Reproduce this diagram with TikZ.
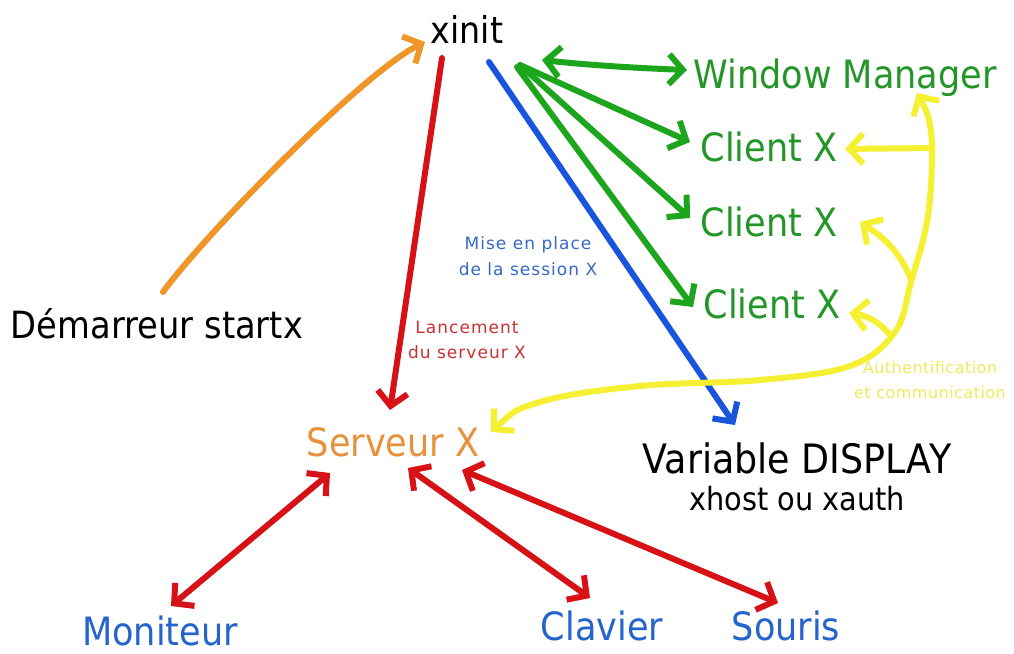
\documentclass[tikz,border=0pt]{standalone}
\usepackage{fontspec}
\setmainfont{DejaVu Sans}[FakeStretch=0.9]
\newfontfamily\smallf{DejaVu Sans}[LetterSpace=6]
\newfontfamily\smallg{DejaVu Sans}[LetterSpace=3]
\usetikzlibrary{arrows.meta,calc}
\definecolor{lorange}{RGB}{240,150,40}
\definecolor{lred}{RGB}{215,18,22}
\definecolor{lblue}{RGB}{25,85,220}
\definecolor{lgreen}{RGB}{30,165,30}
\definecolor{lyellow}{RGB}{245,240,50}
\definecolor{tgreen}{RGB}{35,150,40}
\definecolor{tblue}{RGB}{35,100,205}
\definecolor{torange}{RGB}{232,145,60}
\definecolor{tred}{RGB}{200,50,50}
\definecolor{tsblue}{RGB}{55,105,200}
\definecolor{tyellow}{RGB}{238,235,90}
\begin{document}
\begin{tikzpicture}[x=1pt,y=-1pt,
  lbl/.style={anchor=base, inner sep=0pt, font=\fontsize{39}{39}\selectfont},
  small/.style={anchor=center, inner sep=0pt, align=center, font=\smallf\fontsize{17}{25.5}\selectfont},
  conn/.style={line width=6pt, line cap=round, line join=round},
  >={Straight Barb[length=14pt,width=30pt]}]
\useasboundingbox[fill=white] (0,0) rectangle (1014,653);

% nodes
\node[lbl, font=\fontsize{37}{37}\selectfont] (xinit) at (467,43) {xinit};
\node[lbl, text=tgreen] (wm) at (845,88) {Window Manager};
\node[lbl, text=tgreen] (c1) at (769,161) {Client X};
\node[lbl, text=tgreen] (c2) at (769,236) {Client X};
\node[lbl, text=tgreen] (c3) at (772,318) {Client X};
\node[lbl, font=\fontsize{37.5}{37.5}\selectfont] (dem) at (157,338) {Démarreur startx};
\node[lbl, text=torange] (serv) at (393,456) {Serveur X};
\node[lbl, font=\fontsize{40.5}{40.5}\selectfont] (var) at (797,473) {Variable DISPLAY};
\node[lbl, font=\fontsize{32}{32}\selectfont] (xhost) at (797,510) {xhost ou xauth};
\node[lbl, text=tblue] (mon) at (160,645) {Moniteur};
\node[lbl, text=tblue] (clav) at (602,640) {Clavier};
\node[lbl, text=tblue] (sour) at (786,640) {Souris};

\node[small, text=tsblue] (mise) at (528,256) {Mise en place\\de la session X};
\node[small, text=tred] (lanc) at (467,340) {Lancement\\du serveur X};
\node[small, text=tyellow, font=\smallg\fontsize{16}{25}\selectfont] (auth) at (930,380) {Authentification\\et communication};

% orange: startx -> xinit
\draw[conn, lorange, ->] ($(dem.base)+(6,-46)$) .. controls ($(dem.base)+(45,-100)$) and ($(xinit.base)+(-105,30)$) .. ($(xinit.base)+(-42,-1)$);

% red: xinit -> serveur
\draw[conn, lred, ->] ($(xinit.base)+(-25,15)$) -- ($(serv.base)+(-3,-46)$);

% blue: xinit -> variable
\draw[conn, lblue, ->] ($(xinit.base)+(22,19)$) -- ($(var.base)+(-62,-48)$);

% green
\draw[conn, lgreen, <->] ($(xinit.base)+(75,17)$) .. controls ($(xinit.base)+(120,22)$) and ($(wm.base)+(-210,-20)$) .. ($(wm.base)+(-158,-18)$);
\draw[conn, lgreen, ->] ($(xinit.base)+(53,22)$) -- ($(c1.base)+(-79,-19)$);
\draw[conn, lgreen, ->] ($(xinit.base)+(53,22)$) -- ($(c2.base)+(-79,-18)$);
\draw[conn, lgreen, ->] ($(xinit.base)+(50,24)$) -- ($(c3.base)+(-79,-11)$);

% yellow
\draw[conn, lyellow, <->] plot[smooth, tension=0.6] coordinates {
  ($(serv.base)+(98,-24)$) (540,402) (640,386) (760,380) (850,366) (895,332) (911,282) (927,222) (932,160) (929,120) ($(wm.base)+(72,5)$)};
\draw[conn, lyellow, ->] (931,148) -- ($(c1.base)+(76,-12)$);
\draw[conn, lyellow, ->] (911,280) .. controls (900,250) and (880,235) .. ($(c2.base)+(91,-14)$);
\draw[conn, lyellow, ->] (889,334) .. controls (880,322) and (865,315) .. ($(c3.base)+(77,-5)$);

% red bottom
\draw[conn, lred, <->] ($(serv.base)+(-63,17)$) -- ($(mon.base)+(11,-39)$);
\draw[conn, lred, <->] ($(serv.base)+(15,12)$) -- ($(clav.base)+(-12,-42)$);
\draw[conn, lred, <->] ($(serv.base)+(69,14)$) -- ($(sour.base)+(-8,-37)$);
\end{tikzpicture}
\end{document}
